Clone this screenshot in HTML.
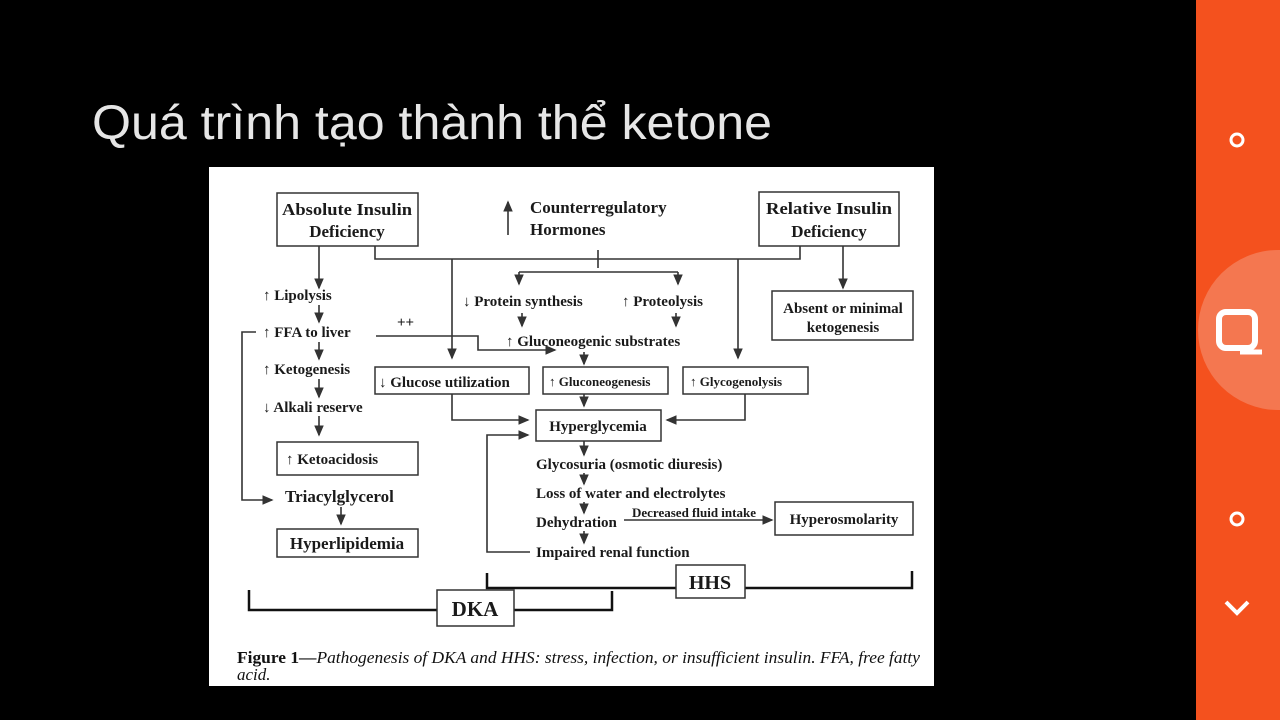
<!DOCTYPE html>
<html><head><meta charset="utf-8"><style>
html,body{margin:0;padding:0;background:#000;width:1280px;height:720px;overflow:hidden}
svg{position:absolute;left:0;top:0}
.t{font-family:"Liberation Serif",serif;font-weight:bold;font-size:17px;fill:#1a1a1a}
.s{font-size:15px}
.xs{font-size:13px}
.b{fill:#fff;stroke:#333;stroke-width:1.5}
.l{stroke:#333;stroke-width:1.6;fill:none}
</style></head><body>
<svg width="1280" height="720">
<defs><marker id="a" markerWidth="8" markerHeight="8" refX="6" refY="4" orient="auto"><path d="M0,1 L7,4 L0,7z" fill="#333"/></marker>
<clipPath id="sc"><rect x="1196" y="0" width="84" height="720"/></clipPath></defs>
<text x="92" y="139" font-family="Liberation Sans, sans-serif" font-size="48" fill="#e6e6e6" textLength="680" lengthAdjust="spacingAndGlyphs">Quá trình tạo thành thể ketone</text>
<g>
<rect x="209" y="167" width="725" height="519" fill="#fff"/>
<rect class="b" x="277" y="193" width="141" height="53"/>
<text class="t" x="347" y="215" text-anchor="middle" textLength="130" lengthAdjust="spacingAndGlyphs">Absolute Insulin</text>
<text class="t" x="347" y="237" text-anchor="middle">Deficiency</text>
<rect class="b" x="759" y="192" width="140" height="54"/>
<text class="t" x="829" y="214" text-anchor="middle" textLength="126" lengthAdjust="spacingAndGlyphs">Relative Insulin</text>
<text class="t" x="829" y="237" text-anchor="middle">Deficiency</text>
<path class="l" d="M508,235 V202" marker-end="url(#a)"/>
<text class="t" x="530" y="213">Counterregulatory</text>
<text class="t" x="530" y="235">Hormones</text>
<path class="l" d="M375,246 V259 H800 V246"/>
<path class="l" d="M319,246 V288" marker-end="url(#a)"/>
<path class="l" d="M452,259 V358" marker-end="url(#a)"/>
<path class="l" d="M738,259 V358" marker-end="url(#a)"/>
<path class="l" d="M843,246 V288" marker-end="url(#a)"/>
<path class="l" d="M598,250 V268"/>
<path class="l" d="M519,272 H678"/>
<path class="l" d="M519,272 V284" marker-end="url(#a)"/>
<path class="l" d="M678,272 V284" marker-end="url(#a)"/>
<rect class="b" x="772" y="291" width="141" height="49"/>
<text class="t s" x="843" y="313" text-anchor="middle">Absent or minimal</text>
<text class="t s" x="843" y="332" text-anchor="middle">ketogenesis</text>
<text class="t s" x="463" y="306">↓ Protein synthesis</text>
<text class="t s" x="622" y="306">↑ Proteolysis</text>
<path class="l" d="M522,313 V326" marker-end="url(#a)"/>
<path class="l" d="M676,313 V326" marker-end="url(#a)"/>
<text class="t s" x="506" y="346">↑ Gluconeogenic substrates</text>
<text class="t s" x="263" y="300">↑  Lipolysis</text>
<text class="t s" x="263" y="337">↑  FFA to liver</text>
<text class="t s" x="263" y="374">↑  Ketogenesis</text>
<text class="t s" x="263" y="412">↓  Alkali reserve</text>
<text class="t s" x="397" y="327">++</text>
<path class="l" d="M319,305 V322" marker-end="url(#a)"/>
<path class="l" d="M319,342 V359" marker-end="url(#a)"/>
<path class="l" d="M319,379 V397" marker-end="url(#a)"/>
<path class="l" d="M319,416 V435" marker-end="url(#a)"/>
<path class="l" d="M376,336 H478 V350 H555" marker-end="url(#a)"/>
<path class="l" d="M584,352 V364" marker-end="url(#a)"/>
<path class="l" d="M256,332 H242 V500 H272" marker-end="url(#a)"/>
<rect class="b" x="375" y="367" width="154" height="27"/>
<text class="t s" x="379" y="387">↓ Glucose utilization</text>
<rect class="b" x="543" y="367" width="125" height="27"/>
<text class="t xs" x="549" y="386">↑  Gluconeogenesis</text>
<rect class="b" x="683" y="367" width="125" height="27"/>
<text class="t xs" x="690" y="386">↑  Glycogenolysis</text>
<path class="l" d="M452,394 V420 H528" marker-end="url(#a)"/>
<path class="l" d="M584,394 V406" marker-end="url(#a)"/>
<path class="l" d="M745,394 V420 H667" marker-end="url(#a)"/>
<rect class="b" x="536" y="410" width="125" height="31"/>
<text class="t s" x="598" y="431" text-anchor="middle">Hyperglycemia</text>
<rect class="b" x="277" y="442" width="141" height="33"/>
<text class="t s" x="286" y="464">↑  Ketoacidosis</text>
<text class="t" x="285" y="502">Triacylglycerol</text>
<path class="l" d="M341,507 V524" marker-end="url(#a)"/>
<rect class="b" x="277" y="529" width="141" height="28"/>
<text class="t" x="347" y="549" text-anchor="middle">Hyperlipidemia</text>
<text class="t s" x="536" y="469">Glycosuria (osmotic diuresis)</text>
<text class="t s" x="536" y="498">Loss of water and electrolytes</text>
<text class="t s" x="536" y="527">Dehydration</text>
<text class="t s" x="536" y="557">Impaired renal function</text>
<path class="l" d="M584,441 V455" marker-end="url(#a)"/>
<path class="l" d="M584,473 V484" marker-end="url(#a)"/>
<path class="l" d="M584,502 V513" marker-end="url(#a)"/>
<path class="l" d="M584,531 V543" marker-end="url(#a)"/>
<path class="l" d="M624,520 H772" marker-end="url(#a)"/>
<text class="t xs" x="632" y="517">Decreased fluid intake</text>
<rect class="b" x="775" y="502" width="138" height="33"/>
<text class="t s" x="844" y="524" text-anchor="middle">Hyperosmolarity</text>
<path class="l" d="M530,552 H487 V435 H528" marker-end="url(#a)"/>
<path d="M487,573 V588 H912 V571" stroke="#111" stroke-width="2.5" fill="none"/>
<rect class="b" x="676" y="565" width="69" height="33"/>
<text class="t" style="font-size:20px" x="710" y="589" text-anchor="middle">HHS</text>
<path d="M249,590 V610 H612 V591" stroke="#111" stroke-width="2.5" fill="none"/>
<rect class="b" x="437" y="590" width="77" height="36"/>
<text class="t" style="font-size:21px" x="475" y="616" text-anchor="middle">DKA</text>
<text x="237" y="663" font-family="Liberation Serif,serif" font-size="17" fill="#111" textLength="683" lengthAdjust="spacingAndGlyphs"><tspan font-weight="bold">Figure 1—</tspan><tspan font-style="italic">Pathogenesis of DKA and HHS: stress, infection, or insufficient insulin. FFA, free fatty</tspan></text>
<text x="237" y="680" font-family="Liberation Serif,serif" font-size="17" font-style="italic" fill="#111">acid.</text>
</g>
<g>
<rect x="1196" y="0" width="84" height="720" fill="#f4511e"/>
<circle cx="1278" cy="330" r="80" fill="#f47750" clip-path="url(#sc)"/>
<circle cx="1237" cy="140" r="6" fill="none" stroke="#fff" stroke-width="3"/>
<rect x="1219" y="312" width="36" height="36" rx="7" fill="none" stroke="#fff" stroke-width="6"/>
<path d="M1240,352 H1262" stroke="#fff" stroke-width="5"/>
<circle cx="1237" cy="519" r="6" fill="none" stroke="#fff" stroke-width="3"/>
<path d="M1226,602 L1237,613 L1248,602" stroke="#fff" stroke-width="4" fill="none"/>
</g>
</svg>
</body></html>
